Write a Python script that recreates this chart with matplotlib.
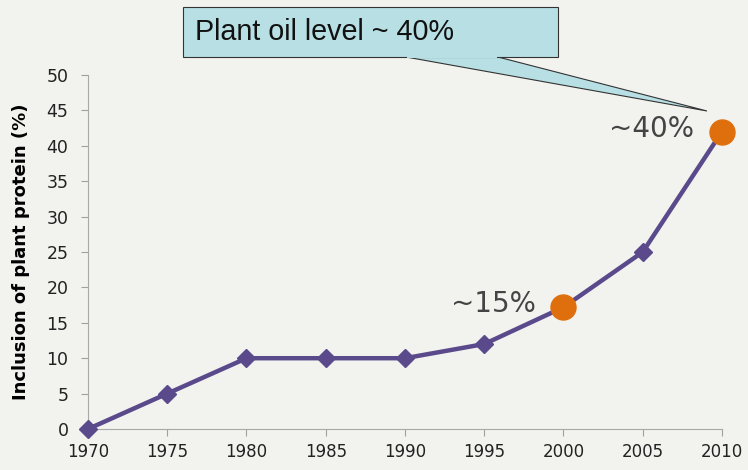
import matplotlib.pyplot as plt
from matplotlib.patches import Polygon, Rectangle

years = [1970, 1975, 1980, 1985, 1990, 1995, 2000, 2005, 2010]
inclusion = [0, 5, 10, 10, 10, 12, 17.2, 25, 42]
highlight_years = [2000, 2010]
highlight_vals = [17.2, 42]
highlight_labels = ["~15%", "~40%"]

line_color = "#5a4a8c"
dot_color = "#df6f0c"
bg = "#f2f2ee"

fig = plt.figure(figsize=(7.48, 4.70), dpi=100, facecolor=bg)
ax = fig.add_axes([0.1176, 0.0872, 0.8476, 0.7532])
ax.set_facecolor(bg)

ax.plot(years, inclusion, color=line_color, lw=3.2, marker="D", ms=9,
        mfc=line_color, mec=line_color, zorder=3, clip_on=False)
ax.plot(highlight_years, highlight_vals, "o", color=dot_color, ms=18, zorder=4,
        clip_on=False)

for x, y, t in zip(highlight_years, highlight_vals, highlight_labels):
    ax.annotate(t, (x, y), xytext=(-20, 2), textcoords="offset points",
                ha="right", va="center", fontsize=20, color="#444444",
                family="DejaVu Sans")

ax.set_xlim(1970, 2010)
ax.set_ylim(0, 50)
ax.set_xticks(years)
ax.set_yticks(range(0, 51, 5))
ax.tick_params(axis="both", labelsize=12, colors="#a0a0a0", labelcolor="#222222",
               length=5, pad=5)
ax.tick_params(axis="y", labelsize=12.5, pad=9)
for side in ["top", "right"]:
    ax.spines[side].set_visible(False)
for side in ["left", "bottom"]:
    ax.spines[side].set_color("#a8a8a8")
ax.set_ylabel("Inclusion of plant protein (%)", fontsize=13, fontweight="bold",
              labelpad=12)

# callout box
W, H = 748, 470
def fc(px, py):
    return (px / W, 1 - py / H)

box_color = "#b8dfe4"
pointer = Polygon([fc(406, 57), fc(498, 57), fc(707, 111)], closed=True,
                  transform=fig.transFigure, facecolor=box_color,
                  edgecolor="#333333", lw=0.8, zorder=5)
fig.patches.append(pointer)
x0, y0 = fc(183, 57)
x1, y1 = fc(558, 7)
box = Rectangle((x0, y0), x1 - x0, y1 - y0, transform=fig.transFigure,
                facecolor=box_color, edgecolor="#333333", lw=0.8, zorder=6)
fig.patches.append(box)
# hide box edge where the pointer joins
cover = Rectangle((fc(407, 57)[0], y0 - 1.0 / H), (497 - 407) / W, 2.0 / H,
                  transform=fig.transFigure, facecolor=box_color,
                  edgecolor="none", zorder=7)
fig.patches.append(cover)
fig.text(fc(195, 32)[0], fc(195, 32)[1], "Plant oil level ~ 40%",
         fontsize=20.7, family="Liberation Sans", va="center", ha="left",
         color="#111111", zorder=8)

fig.savefig("out.png", dpi=100, facecolor=bg)
